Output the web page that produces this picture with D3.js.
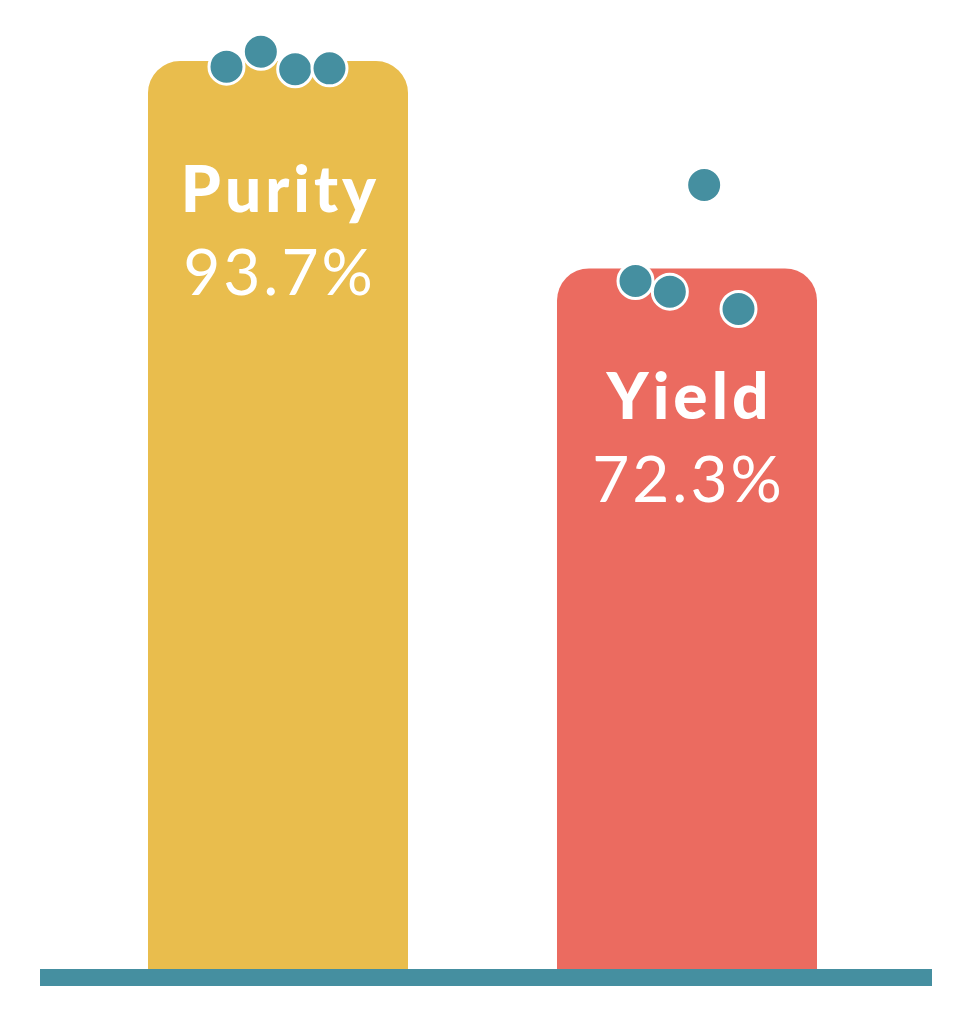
<!DOCTYPE html>
<html>
<head>
<meta charset="utf-8">
<script src="https://cdn.jsdelivr.net/npm/d3@7"></script>
<style>
  html, body { margin: 0; padding: 0; background: #ffffff; }
  svg { display: block; }
</style>
</head>
<body>
<svg id="chart" width="969" height="1024"></svg>
<script>
// ---- data ----
const categories = ["Purity", "Yield"];
const values = [93.7, 72.3];
const valueLabels = ["93.7%", "72.3%"];
const purityRuns = [93.12, 94.66, 92.85, 92.95];
const yieldRuns = [71.0, 69.9, 80.91, 68.11];
const runs = [purityRuns, yieldRuns];
const barColors = ["#E9BD4D", "#EB6B60"];
const dotColor = "#458FA0";

// ---- layout ----
const svg = d3.select("#chart");
const baseY = 969;

const x = d3.scaleBand()
  .domain(categories)
  .range([73.5, 891.5])
  .paddingInner(0.3643)
  .paddingOuter(0.18215);

const y = d3.scaleLinear().domain([0, 100]).range([baseY, 0]);

const bw = x.bandwidth();
const r = 32;

function topRoundedBar(x0, y0, w, h, rad) {
  const p = d3.path();
  p.moveTo(x0, y0 + h);
  p.lineTo(x0, y0 + rad);
  p.arcTo(x0, y0, x0 + rad, y0, rad);
  p.lineTo(x0 + w - rad, y0);
  p.arcTo(x0 + w, y0, x0 + w, y0 + rad, rad);
  p.lineTo(x0 + w, y0 + h);
  p.closePath();
  return p.toString();
}

const data = categories.map((c, i) => ({
  name: c, value: values[i], label: valueLabels[i], color: barColors[i], runs: runs[i]
}));

// bars
svg.append("g").selectAll("path")
  .data(data)
  .join("path")
  .attr("d", d => topRoundedBar(x(d.name), y(d.value), bw, baseY - y(d.value), r))
  .attr("fill", d => d.color);

// baseline
svg.append("rect")
  .attr("x", 40).attr("y", baseY)
  .attr("width", 892).attr("height", 17)
  .attr("fill", dotColor);

// labels
const lab = svg.append("g").selectAll("g")
  .data(data)
  .join("g")
  .attr("transform", d => `translate(${x(d.name) + bw / 2},${y(d.value)})`);

lab.append("text")
  .attr("y", 151)
  .attr("dx", 2.5)
  .attr("text-anchor", "middle")
  .attr("fill", "#ffffff")
  .style("font-family", "Lato, 'DejaVu Sans', sans-serif")
  .style("font-weight", 900)
  .style("font-size", "64px")
  .style("letter-spacing", "4px")
  .text(d => d.name);

lab.append("text")
  .attr("y", 234)
  .attr("dx", 1.5)
  .attr("text-anchor", "middle")
  .attr("fill", "#ffffff")
  .style("font-family", "Lato, 'DejaVu Sans', sans-serif")
  .style("font-weight", 400)
  .style("font-size", "64px")
  .style("letter-spacing", "3px")
  .text(d => d.label);

// dots
const dotX = d3.scalePoint().domain([0, 1, 2, 3]).range([78.5, 181.5]);
data.forEach(d => {
  svg.append("g").selectAll("circle")
    .data(d.runs)
    .join("circle")
    .attr("cx", (v, i) => x(d.name) + dotX(i))
    .attr("cy", v => y(v))
    .attr("r", 17.5)
    .attr("fill", dotColor)
    .attr("stroke", "#ffffff")
    .attr("stroke-width", 3);
});
</script>
</body>
</html>
